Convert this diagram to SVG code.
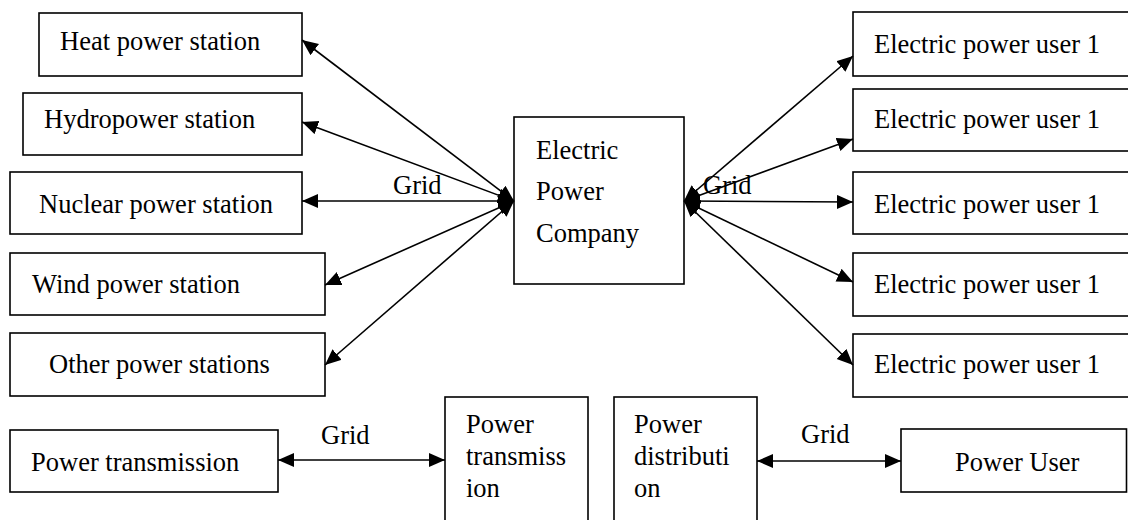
<svg xmlns="http://www.w3.org/2000/svg" width="1128" height="520" viewBox="0 0 1128 520">
<defs>
<marker id="ah" markerUnits="userSpaceOnUse" markerWidth="17" markerHeight="15" refX="16" refY="7" orient="auto-start-reverse">
<path d="M0,0 L16,7 L0,14 z" fill="#000"/>
</marker>
<style>
rect{fill:#fff;stroke:#000;stroke-width:1.6}
text{font-family:"Liberation Serif","Times New Roman",serif;font-size:26.5px;fill:#000}
.c line{stroke:#000;stroke-width:1.6;marker-start:url(#ah);marker-end:url(#ah)}
</style>
</defs>
<rect width="1128" height="520" style="fill:#fff;stroke:none"/>
<g id="heat"><rect x="39" y="13" width="263" height="63"/><text x="60" y="50">Heat power station</text></g>
<g id="hydro"><rect x="23" y="93" width="279" height="62"/><text x="44" y="128">Hydropower station</text></g>
<g id="nuclear"><rect x="10" y="172" width="292" height="62"/><text x="39" y="213">Nuclear power station</text></g>
<g id="wind"><rect x="10" y="253" width="315" height="62"/><text x="32" y="293">Wind power station</text></g>
<g id="other"><rect x="10" y="333" width="315" height="63"/><text x="49" y="373">Other power stations</text></g>
<g id="company"><rect x="514" y="117" width="170" height="167"/><text x="536" y="159">Electric</text><text x="536" y="200">Power</text><text x="536" y="242">Company</text></g>
<g id="user1"><rect x="853" y="12" width="290" height="64"/><text x="874" y="53">Electric power user 1</text></g>
<g id="user2"><rect x="853" y="89" width="290" height="62"/><text x="874" y="128">Electric power user 1</text></g>
<g id="user3"><rect x="853" y="172" width="290" height="62"/><text x="874" y="213">Electric power user 1</text></g>
<g id="user4"><rect x="853" y="253" width="290" height="63"/><text x="874" y="293">Electric power user 1</text></g>
<g id="user5"><rect x="853" y="334" width="290" height="63"/><text x="874" y="373">Electric power user 1</text></g>
<g id="ptrans1"><rect x="10" y="430" width="268" height="62"/><text x="31" y="471">Power transmission</text></g>
<g id="ptrans2"><rect x="445" y="397" width="143" height="140"/><text x="466" y="433">Power</text><text x="466" y="465">transmiss</text><text x="466" y="497">ion</text></g>
<g id="pdist"><rect x="614" y="397" width="143" height="140"/><text x="634" y="433">Power</text><text x="634" y="465">distributi</text><text x="634" y="497">on</text></g>
<g id="puser"><rect x="901" y="429" width="225.5" height="63"/><text x="955" y="471">Power User</text></g>
<g id="connectors" class="c">
<line x1="514" y1="201" x2="302" y2="40"/>
<line x1="514" y1="201" x2="302" y2="122"/>
<line x1="514" y1="201" x2="302" y2="201"/>
<line x1="514" y1="201" x2="325" y2="285"/>
<line x1="514" y1="201" x2="325" y2="365"/>
<line x1="684" y1="201" x2="853" y2="56"/>
<line x1="684" y1="201" x2="853" y2="139"/>
<line x1="684" y1="201" x2="853" y2="202"/>
<line x1="684" y1="201" x2="853" y2="282"/>
<line x1="684" y1="201" x2="853" y2="365"/>
<line x1="278" y1="460" x2="445" y2="460"/>
<line x1="757" y1="461" x2="901" y2="461"/>
</g>
<g id="labels">
<text x="393" y="194">Grid</text>
<text x="703" y="194">Grid</text>
<text x="321" y="444">Grid</text>
<text x="801" y="443">Grid</text>
</g>
</svg>
